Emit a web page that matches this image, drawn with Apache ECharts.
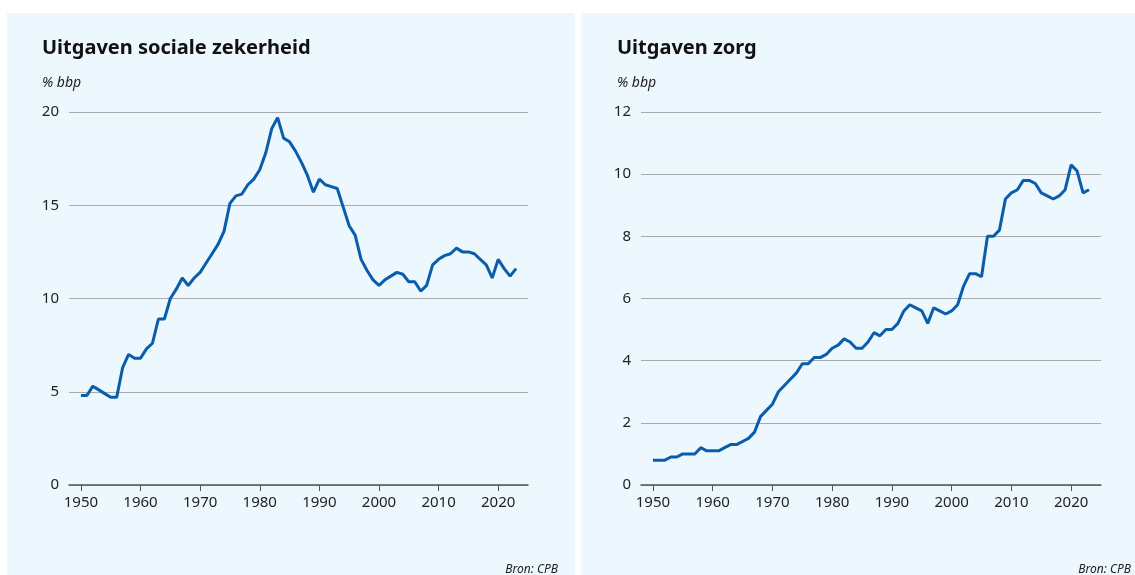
<!DOCTYPE html>
<html>
<head>
<meta charset="utf-8">
<script src="https://cdn.jsdelivr.net/npm/echarts@6/dist/echarts.min.js"></script>
<style>
html, body { margin: 0; padding: 0; background: #ffffff; }
#main { width: 1135px; height: 575px; }
</style>
</head>
<body>
<div id="main"></div>
<script>
var years = [];
for (var y = 1950; y <= 2023; y++) years.push(y);

// % bbp, 1950-2023
var socialeZekerheid = [4.8, 4.8, 5.3, 5.1, 4.9, 4.7, 4.7, 6.3, 7.0, 6.8,
	6.8, 7.3, 7.6, 8.9, 8.9, 10.0, 10.5, 11.1, 10.7, 11.1,
	11.4, 11.9, 12.4, 12.9, 13.6, 15.1, 15.5, 15.6, 16.1, 16.4,
	16.9, 17.8, 19.1, 19.7, 18.6, 18.4, 17.9, 17.3, 16.6, 15.7,
	16.4, 16.1, 16.0, 15.9, 14.9, 13.9, 13.4, 12.1, 11.5, 11.0,
	10.7, 11.0, 11.2, 11.4, 11.3, 10.9, 10.9, 10.4, 10.7, 11.8,
	12.1, 12.3, 12.4, 12.7, 12.5, 12.5, 12.4, 12.1, 11.8, 11.1,
	12.1, 11.6, 11.2, 11.6];

var zorg = [0.8, 0.8, 0.8, 0.9, 0.9, 1.0, 1.0, 1.0, 1.2, 1.1,
	1.1, 1.1, 1.2, 1.3, 1.3, 1.4, 1.5, 1.7, 2.2, 2.4,
	2.6, 3.0, 3.2, 3.4, 3.6, 3.9, 3.9, 4.1, 4.1, 4.2,
	4.4, 4.5, 4.7, 4.6, 4.4, 4.4, 4.6, 4.9, 4.8, 5.0,
	5.0, 5.2, 5.6, 5.8, 5.7, 5.6, 5.2, 5.7, 5.6, 5.5,
	5.6, 5.8, 6.4, 6.8, 6.8, 6.7, 8.0, 8.0, 8.2, 9.2,
	9.4, 9.5, 9.8, 9.8, 9.7, 9.4, 9.3, 9.2, 9.3, 9.5,
	10.3, 10.1, 9.4, 9.5];

var tickYears = [1950, 1960, 1970, 1980, 1990, 2000, 2010, 2020];

function pairs(vals) {
	return vals.map(function (v, i) { return [years[i], v]; });
}

var myChart = echarts.init(document.getElementById('main'));

var labelStyle = { color: '#222', fontSize: 15, fontFamily: 'Noto Sans' };

function xAxisFor(gridIndex) {
	return {
		type: 'value',
		gridIndex: gridIndex,
		min: 1948,
		max: 2025,
		axisLine: { show: true, onZero: false, lineStyle: { color: '#555', width: 1.5 } },
		axisTick: { show: true, inside: false, length: 6, customValues: tickYears, lineStyle: { color: '#555' } },
		axisLabel: Object.assign({
			customValues: tickYears,
			margin: 10,
			formatter: function (v) { return String(v); }
		}, labelStyle),
		splitLine: { show: false }
	};
}

function yAxisFor(gridIndex, max, interval) {
	return {
		type: 'value',
		gridIndex: gridIndex,
		min: 0,
		max: max,
		interval: interval,
		axisLine: { show: false },
		axisTick: { show: false },
		axisLabel: Object.assign({ margin: 10 }, labelStyle),
		splitLine: { show: true, lineStyle: { color: '#aaa', width: 1 } }
	};
}

var option = {
	backgroundColor: '#ffffff',
	animation: false,
	graphic: [
		{ type: 'rect', shape: { x: 7, y: 13, width: 568, height: 562 }, style: { fill: '#edf7fe' }, z: -10 },
		{ type: 'rect', shape: { x: 581, y: 13, width: 554, height: 562 }, style: { fill: '#edf7fe' }, z: -10 }
	],
	title: [
		{ text: 'Uitgaven sociale zekerheid', left: 42, top: 38, padding: 0,
			textStyle: { fontSize: 20, fontWeight: 'bold', color: '#111', fontFamily: 'Noto Sans' } },
		{ text: '% bbp', left: 42, top: 76, padding: 0,
			textStyle: { fontSize: 14, fontStyle: 'italic', fontWeight: 'normal', color: '#222', fontFamily: 'Noto Sans' } },
		{ text: 'Uitgaven zorg', left: 617, top: 38, padding: 0,
			textStyle: { fontSize: 20, fontWeight: 'bold', color: '#111', fontFamily: 'Noto Sans' } },
		{ text: '% bbp', left: 617, top: 76, padding: 0,
			textStyle: { fontSize: 14, fontStyle: 'italic', fontWeight: 'normal', color: '#222', fontFamily: 'Noto Sans' } },
		{ text: 'Bron: CPB', right: 577, top: 564, padding: 0,
			textStyle: { fontSize: 12, fontStyle: 'italic', fontWeight: 'normal', color: '#222', fontFamily: 'Noto Sans' } },
		{ text: 'Bron: CPB', right: 4, top: 564, padding: 0,
			textStyle: { fontSize: 12, fontStyle: 'italic', fontWeight: 'normal', color: '#222', fontFamily: 'Noto Sans' } }
	],
	grid: [
		{ left: 69, right: 607, top: 112, bottom: 90 },
		{ left: 641, right: 34, top: 112, bottom: 90 }
	],
	xAxis: [xAxisFor(0), xAxisFor(1)],
	yAxis: [yAxisFor(0, 20, 5), yAxisFor(1, 12, 2)],
	series: [{
		name: 'Uitgaven sociale zekerheid',
		type: 'line',
		xAxisIndex: 0,
		yAxisIndex: 0,
		data: pairs(socialeZekerheid),
		showSymbol: false,
		lineStyle: { color: '#0a5dab', width: 3 }
	}, {
		name: 'Uitgaven zorg',
		type: 'line',
		xAxisIndex: 1,
		yAxisIndex: 1,
		data: pairs(zorg),
		showSymbol: false,
		lineStyle: { color: '#0a5dab', width: 3 }
	}]
};

myChart.setOption(option);

window.onresize = function() {
	myChart.resize();
}
</script>
</body>
</html>
